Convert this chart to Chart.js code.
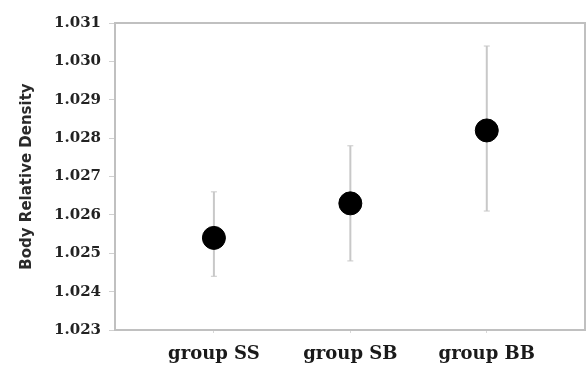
<!DOCTYPE html>
<html>
<head>
<meta charset="utf-8">
<script src="https://cdn.jsdelivr.net/npm/chart.js@4"></script>
<style>
  html, body { margin: 0; padding: 0; background: #fff; }
  #wrap { width: 588px; height: 367px; }
</style>
</head>
<body>
<div id="wrap"><canvas id="myChart" width="588" height="367"></canvas></div>
<script>
// data
var groups = ['group SS', 'group SB', 'group BB'];
var means = [1.0254, 1.0263, 1.0282];
var upper = [1.0266, 1.0278, 1.0304];
var lower = [1.0244, 1.0248, 1.0261];
var yTicks = [1.023, 1.024, 1.025, 1.026, 1.027, 1.028, 1.029, 1.030, 1.031];

// error bars + frame around the plot
var errorBars = {
	id: 'errorBars',
	beforeDatasetsDraw: function(chart) {
		var ctx = chart.ctx, xs = chart.scales.x, ys = chart.scales.y;
		ctx.save();
		ctx.strokeStyle = '#c8c8c8';
		ctx.lineWidth = 2;
		for (let i = 0; i < means.length; i++) {
			var x = xs.getPixelForValue(i + 1);
			var yt = ys.getPixelForValue(upper[i]);
			var yb = ys.getPixelForValue(lower[i]);
			ctx.beginPath();
			ctx.moveTo(x, yt); ctx.lineTo(x, yb);
			ctx.stroke();
			ctx.lineWidth = 1;
			ctx.beginPath();
			ctx.moveTo(x - 3, yt); ctx.lineTo(x + 3, yt);
			ctx.moveTo(x - 3, yb); ctx.lineTo(x + 3, yb);
			ctx.stroke();
			ctx.lineWidth = 2;
		}
		// top and right frame
		var a = chart.chartArea;
		ctx.strokeStyle = '#c0c0c0';
		ctx.beginPath();
		ctx.moveTo(a.left, a.top); ctx.lineTo(a.right, a.top); ctx.lineTo(a.right, a.bottom);
		ctx.stroke();
		ctx.restore();
	}
};

var ctx = document.getElementById('myChart').getContext('2d');
var chart = new Chart(ctx, {
	type: 'scatter',
	data: {
		datasets: [{
			data: means.map((m, i) => ({ x: i + 1, y: m })),
			backgroundColor: '#000',
			borderColor: '#000',
			pointRadius: 11.5,
			pointHoverRadius: 11.5
		}]
	},
	options: {
		responsive: false,
		animation: false,
		layout: { autoPadding: false, padding: { left: 8, top: 23, right: 3, bottom: 0 } },
		plugins: { legend: { display: false }, tooltip: { enabled: false } },
		scales: {
			x: {
				type: 'linear',
				min: 0.275,
				max: 3.72,
				afterBuildTicks: function(scale) {
					scale.ticks = groups.map((g, i) => ({ value: i + 1 }));
				},
				afterFit: function(scale) {
					scale.height = 37;
					scale.paddingLeft = 0;
					scale.paddingRight = 0;
				},
				ticks: {
					callback: function(v) { return groups[v - 1]; },
					color: '#1a1a1a',
					font: { family: '"DejaVu Serif", serif', size: 18, weight: 'bold' },
					padding: 11,
					maxRotation: 0,
					autoSkip: false
				},
				grid: { drawOnChartArea: false, drawTicks: true, tickLength: 3, color: '#d8d8d8' },
				border: { display: true, color: '#c0c0c0', width: 2 }
			},
			y: {
				min: 1.023,
				max: 1.031,
				afterBuildTicks: function(scale) {
					scale.ticks = yTicks.map(v => ({ value: v }));
				},
				afterFit: function(scale) { scale.width = 107; },
				ticks: {
					callback: function(v) { return v.toFixed(3); },
					color: '#222',
					font: { family: '"DejaVu Serif", serif', size: 15, weight: 'bold' },
					padding: 8
				},
				grid: { drawOnChartArea: false, drawTicks: true, tickLength: 6, color: '#d0d0d0' },
				border: { display: true, color: '#c0c0c0', width: 2 },
				title: {
					display: true,
					text: 'Body Relative Density',
					color: '#2a2a2a',
					font: { family: '"DejaVu Sans", sans-serif', size: 15, weight: 'bold' },
					padding: { top: 10, bottom: 0 }
				}
			}
		}
	},
	plugins: [errorBars]
});
</script>
</body>
</html>
